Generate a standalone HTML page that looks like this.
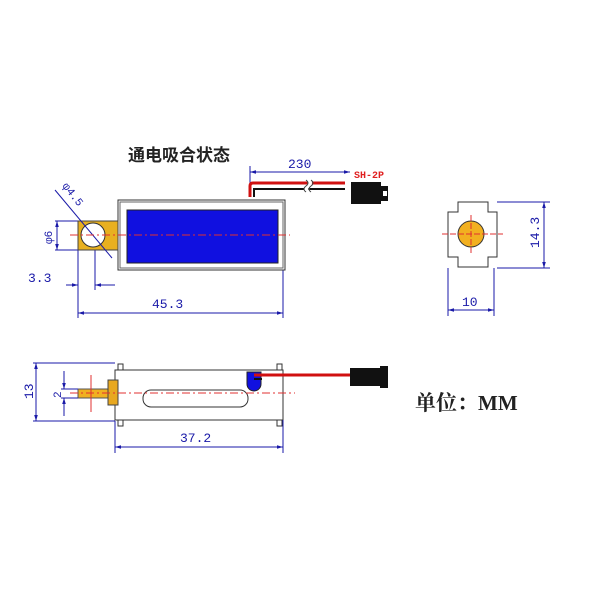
<!DOCTYPE html>
<html><head><meta charset="utf-8"><style>html,body{margin:0;background:#fff}svg{display:block}</style></head><body>
<svg width="600" height="600" viewBox="0 0 600 600" xmlns="http://www.w3.org/2000/svg" font-family="Liberation Mono, monospace">
<defs><marker id="a" viewBox="0 0 10 10" refX="10" refY="5" markerWidth="8" markerHeight="6" orient="auto-start-reverse"><path d="M0,2L10,5L0,8z" fill="#1a1aa8"/></marker></defs>
<text x="128" y="161" font-family="Liberation Sans, Noto Sans CJK SC, sans-serif" font-size="17" font-weight="bold" fill="#222">通电吸合状态</text>
<!-- top view -->
<g stroke="#1a1aa8" stroke-width="1" fill="none">
<line x1="250" y1="172" x2="350" y2="172" marker-start="url(#a)" marker-end="url(#a)"/>
<line x1="250" y1="166" x2="250" y2="185"/>
<line x1="57" y1="221" x2="57" y2="250" marker-start="url(#a)" marker-end="url(#a)"/>
<line x1="55" y1="221" x2="78" y2="221"/><line x1="55" y1="250" x2="78" y2="250"/>
<line x1="66" y1="285" x2="78" y2="285" marker-end="url(#a)"/><line x1="95" y1="285" x2="115" y2="285" marker-start="url(#a)"/>
<line x1="78" y1="250" x2="78" y2="318"/><line x1="95" y1="250" x2="95" y2="290"/>
<line x1="78" y1="313" x2="283" y2="313" marker-start="url(#a)" marker-end="url(#a)"/>
<line x1="283" y1="265" x2="283" y2="318"/>
</g>
<text x="288" y="168" font-size="13" fill="#1a1aa8">230</text>
<text x="354" y="178" font-size="10" font-weight="bold" fill="#e02020">SH-2P</text>
<text x="28" y="282" font-size="13" fill="#1a1aa8">3.3</text>
<text x="152" y="308" font-size="13" fill="#1a1aa8">45.3</text>
<text transform="translate(52,244) rotate(-90)" font-size="11" fill="#1a1aa8">φ6</text>
<text transform="translate(62,186) rotate(52)" font-size="11" fill="#1a1aa8">φ4.5</text>
<path d="M250,197V186q0-3 3-3H345" stroke="#d01010" stroke-width="3" fill="none"/>
<path d="M254,197V189H345" stroke="#111" stroke-width="2" fill="none"/>
<path d="M308,180q4,3 0,6q-4,3 0,6" stroke="#fff" stroke-width="4" fill="none"/>
<path d="M306,180q4,3 0,6q-4,3 0,6M311,180q4,3 0,6q-4,3 0,6" stroke="#444" stroke-width="1" fill="none"/>
<rect x="351" y="182" width="30" height="22" fill="#111"/><rect x="381" y="186" width="7" height="15" fill="#111"/><rect x="383" y="191" width="4" height="5" fill="#fff"/>
<rect x="118" y="200" width="167" height="70" fill="#fff" stroke="#333"/>
<rect x="120" y="202" width="163" height="66" fill="none" stroke="#666"/>
<rect x="127" y="210" width="151" height="53" fill="#1010e0" stroke="#222"/>
<rect x="78" y="221" width="40" height="29" fill="#e8b020" stroke="#444"/>
<circle cx="93" cy="235" r="12" fill="#fff" stroke="#333"/>
<line x1="55" y1="190" x2="112" y2="258" stroke="#1a1aa8"/>
<line x1="70" y1="235" x2="290" y2="235" stroke="#e03030" stroke-dasharray="8,3,2,3"/>
<!-- right view -->
<path d="M448,212h10v-10h30v10h9v45h-9v10h-30v-10h-10z" fill="#fff" stroke="#333"/>
<circle cx="471" cy="234" r="13" fill="#f2b020" stroke="#333"/>
<line x1="442" y1="234" x2="503" y2="234" stroke="#e03030" stroke-dasharray="6,2"/>
<line x1="471" y1="215" x2="471" y2="253" stroke="#e03030" stroke-dasharray="6,2"/>
<g stroke="#1a1aa8" fill="none">
<line x1="544" y1="202" x2="544" y2="268" marker-start="url(#a)" marker-end="url(#a)"/>
<line x1="497" y1="202" x2="550" y2="202"/><line x1="497" y1="268" x2="550" y2="268"/>
<line x1="448" y1="268" x2="448" y2="316"/><line x1="494" y1="268" x2="494" y2="316"/>
<line x1="448" y1="310" x2="494" y2="310" marker-start="url(#a)" marker-end="url(#a)"/>
</g>
<text transform="translate(539,248) rotate(-90)" font-size="13" fill="#1a1aa8">14.3</text>
<text x="462" y="306" font-size="13" fill="#1a1aa8">10</text>
<!-- side view -->
<rect x="115" y="370" width="168" height="50" fill="#fff" stroke="#333"/>
<rect x="118" y="364" width="5" height="6" fill="#fff" stroke="#333"/><rect x="277" y="364" width="5" height="6" fill="#fff" stroke="#333"/>
<rect x="118" y="420" width="5" height="6" fill="#fff" stroke="#333"/><rect x="277" y="420" width="5" height="6" fill="#fff" stroke="#333"/>
<rect x="143" y="390" width="105" height="17" rx="8" fill="none" stroke="#333"/>
<path d="M247,372h14v12a7,7 0 0 1-14,0z" fill="#1010e0" stroke="#222"/>
<line x1="254" y1="375" x2="350" y2="375" stroke="#d01010" stroke-width="3"/>
<line x1="254" y1="379" x2="262" y2="379" stroke="#111" stroke-width="2"/>
<rect x="350" y="368" width="30" height="18" fill="#111"/><rect x="380" y="366" width="8" height="22" fill="#111"/>
<rect x="78" y="389" width="32" height="9" fill="#f0b020" stroke="#555"/>
<rect x="108" y="380" width="10" height="25" fill="#e8a820" stroke="#444"/>
<line x1="70" y1="393" x2="295" y2="393" stroke="#e03030" stroke-dasharray="8,3,2,3"/>
<line x1="91" y1="375" x2="91" y2="412" stroke="#e03030"/>
<g stroke="#1a1aa8" fill="none">
<line x1="36" y1="363" x2="36" y2="421" marker-start="url(#a)" marker-end="url(#a)"/>
<line x1="33" y1="363" x2="115" y2="363"/><line x1="33" y1="421" x2="115" y2="421"/>
<line x1="64" y1="371" x2="64" y2="389" marker-end="url(#a)"/><line x1="64" y1="398" x2="64" y2="416" marker-start="url(#a)"/>
<line x1="61" y1="389" x2="78" y2="389"/><line x1="61" y1="398" x2="78" y2="398"/>
<line x1="115" y1="421" x2="115" y2="453"/><line x1="283" y1="420" x2="283" y2="453"/>
<line x1="115" y1="447" x2="283" y2="447" marker-start="url(#a)" marker-end="url(#a)"/>
</g>
<text transform="translate(33,399) rotate(-90)" font-size="13" fill="#1a1aa8">13</text>
<text transform="translate(61,398) rotate(-90)" font-size="11" fill="#1a1aa8">2</text>
<text x="180" y="442" font-size="13" fill="#1a1aa8">37.2</text>
<text x="415" y="410" font-family="Liberation Serif, Noto Serif CJK SC, serif" font-size="21" font-weight="bold" fill="#222">单位：MM</text>
</svg>
</body></html>
